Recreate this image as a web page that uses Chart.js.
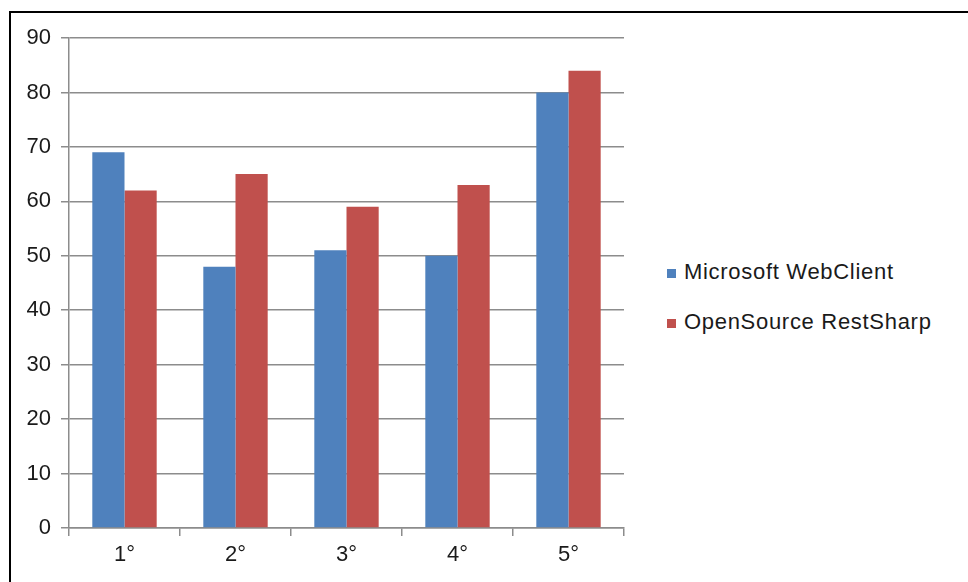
<!DOCTYPE html>
<html>
<head>
<meta charset="utf-8">
<script src="https://cdn.jsdelivr.net/npm/chart.js@4.4.0/dist/chart.umd.min.js"></script>
<style>
  html, body { margin: 0; padding: 0; background: #fff; }
  body { width: 968px; height: 582px; position: relative; overflow: hidden; font-family: "Liberation Sans", Arial, sans-serif; }
  #frame { position: absolute; left: 9px; top: 11px; width: 1000px; height: 600px; border-left: 2px solid #000; border-top: 2px solid #000; }
  #chart { position: absolute; left: 0; top: 0; }
  #legend { position: absolute; left: 667px; top: 258px; }
  .item { height: 28px; line-height: 28px; margin-bottom: 22px; font-size: 22px; color: #1a1a1a; letter-spacing: 0.7px; white-space: nowrap; }
  .box { display: inline-block; width: 9px; height: 9px; margin-right: 8px; vertical-align: 1px; }
</style>
</head>
<body>
<div id="frame"></div>
<canvas id="chart" width="640" height="582"></canvas>
<div id="legend"></div>
<script>
    // data
    const categories = ['1°', '2°', '3°', '4°', '5°'];
    const webClient = [69, 48, 51, 50, 80];
    const restSharp = [62, 65, 59, 63, 84];
    const seriesNames = ['Microsoft WebClient', 'OpenSource RestSharp'];
    const seriesColors = ['#4F81BD', '#C0504D'];

    const gridColor = '#8c8c8c';
    const fontSpec = { family: '"Liberation Sans", Arial, sans-serif', size: 22 };

    const ctx = document.getElementById('chart');
    const myChart = new Chart(ctx, {
        type: 'bar',
        data: {
            labels: categories,
            datasets: [{
                label: seriesNames[0],
                data: webClient,
                backgroundColor: seriesColors[0]
            }, {
                label: seriesNames[1],
                data: restSharp,
                backgroundColor: seriesColors[1]
            }]
        },
        options: {
            responsive: false,
            animation: false,
            layout: { padding: { left: 0, right: 16, top: 38, bottom: 0 } },
            datasets: {
                bar: { barPercentage: 1, categoryPercentage: 0.58 }
            },
            plugins: {
                legend: { display: false },
                tooltip: { enabled: false }
            },
            scales: {
                x: {
                    grid: { offset: true, drawOnChartArea: false, color: gridColor, lineWidth: 1.5, tickLength: 8 },
                    border: { color: gridColor, width: 1.5 },
                    ticks: { color: '#1a1a1a', font: fontSpec, padding: 6 },
                    afterFit: function(scale) { scale.height = 54; }
                },
                y: {
                    min: 0,
                    max: 90,
                    ticks: { stepSize: 10, color: '#1a1a1a', font: fontSpec, padding: 10 },
                    grid: { color: gridColor, lineWidth: 1.5, tickLength: 8 },
                    border: { color: gridColor, width: 1.5 },
                    afterFit: function(scale) { scale.width = 69; }
                }
            }
        }
    });

    // legend on the right, built from the same series
    const legendEl = document.getElementById('legend');
    seriesNames.forEach(function(name, i) {
        const row = document.createElement('div');
        row.className = 'item';
        const box = document.createElement('span');
        box.className = 'box';
        box.style.background = seriesColors[i];
        row.appendChild(box);
        row.appendChild(document.createTextNode(name));
        legendEl.appendChild(row);
    });
</script>
</body>
</html>
